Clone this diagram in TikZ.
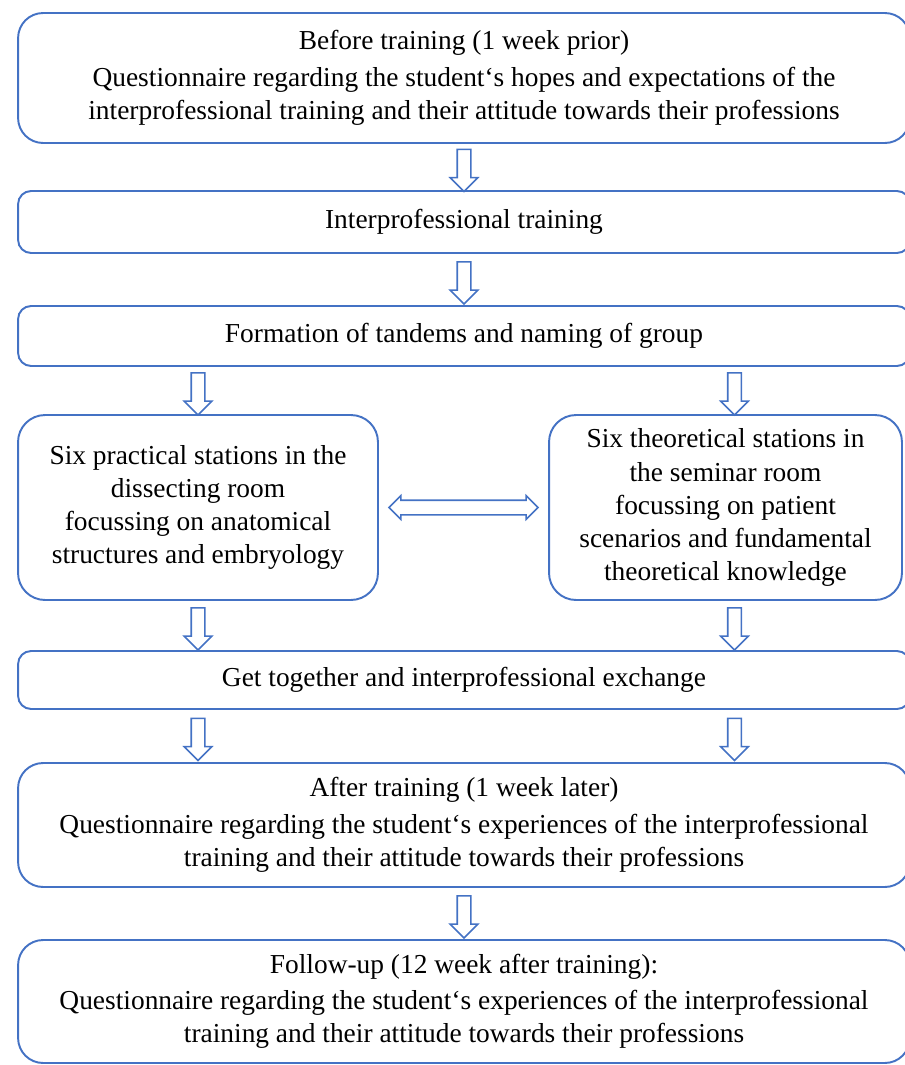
\documentclass[tikz,border=0pt]{standalone}
\usepackage{fontspec}
\setmainfont{Liberation Serif}
\usepackage{tikz}
\usetikzlibrary{shapes.arrows,calc}
\definecolor{boxline}{HTML}{4472C4}

\begin{document}
\begin{tikzpicture}[
    x=0.02cm, y=-0.02cm,
    stage/.style={
        draw=boxline,
        line width=1.1pt,
        rounded corners=0.5cm,
        align=center,
        font=\fontsize{15.6}{18.8}\selectfont,
        inner sep=0pt
    },
    slim/.style={stage, rounded corners=0.26cm},
    downarrow/.style={single arrow, draw=boxline, line width=0.9pt, fill=white,
        minimum height=0.84cm, inner xsep=0pt, inner ysep=0.12cm,
        single arrow head extend=0.14cm, single arrow head indent=0pt},
    bothways/.style={double arrow, draw=boxline, line width=0.9pt, fill=white,
        minimum height=2.98cm, inner xsep=0pt, inner ysep=0.13cm,
        double arrow head extend=0.09cm, double arrow head indent=0pt}
]
\useasboundingbox (0,0) rectangle (904,1065);

% Stages (top to bottom)
\node[stage, minimum width=17.84cm, minimum height=2.6cm] (pre) at (464,78)
    {Before training (1 week prior)\\[2pt]
     Questionnaire regarding the student‘s hopes and expectations of the\\
     interprofessional training and their attitude towards their professions};

\node[slim, minimum width=17.84cm, minimum height=1.24cm] (ipt) at (464,222)
    {Interprofessional training};

\node[slim, minimum width=17.84cm, minimum height=1.2cm] (tandem) at (464,336)
    {Formation of tandems and naming of group};

\node[stage, rounded corners=0.54cm, minimum width=7.2cm, minimum height=3.7cm] (practical) at (198,507.5)
    {Six practical stations in the\\ dissecting room\\ focussing on anatomical\\ structures and embryology};

\node[stage, rounded corners=0.54cm, minimum width=7.06cm, minimum height=3.7cm] (theory) at (725.5,507.5)
    {Six theoretical stations in\\ the seminar room\\ focussing on patient\\ scenarios and fundamental\\ theoretical knowledge};

\node[slim, minimum width=17.84cm, minimum height=1.16cm] (together) at (464,680)
    {Get together and interprofessional exchange};

\node[stage, minimum width=17.84cm, minimum height=2.48cm] (post) at (464,825)
    {After training (1 week later)\\[2pt]
     Questionnaire regarding the student‘s experiences of the interprofessional\\
     training and their attitude towards their professions};

\node[stage, minimum width=17.84cm, minimum height=2.46cm] (follow) at (464,1001.5)
    {Follow-up (12 week after training):\\[2pt]
     Questionnaire regarding the student‘s experiences of the interprofessional\\
     training and their attitude towards their professions};

% Block arrows between stages
\path (pre.south) -- (ipt.north) node[midway, sloped, downarrow] (a1) {};
\path (ipt.south) -- (tandem.north) node[midway, sloped, downarrow] (a2) {};
\path (practical.north |- tandem.south) -- (practical.north) node[midway, sloped, downarrow] (a3) {};
\path ([xshift=0.18cm]theory.north |- tandem.south) -- ([xshift=0.18cm]theory.north) node[midway, sloped, downarrow] (a4) {};
\path (practical.east) -- (theory.west) node[midway, sloped, bothways] (a5) {};
\path (practical.south) -- (practical.south |- together.north) node[midway, sloped, downarrow] (a6) {};
\path ([xshift=0.18cm]theory.south) -- ([xshift=0.18cm]theory.south |- together.north) node[midway, sloped, downarrow] (a7) {};
\path (practical.south |- together.south) -- (practical.south |- post.north) node[midway, sloped, downarrow] (a8) {};
\path ([xshift=0.18cm]theory.south |- together.south) -- ([xshift=0.18cm]theory.south |- post.north) node[midway, sloped, downarrow] (a9) {};
\path (post.south) -- (follow.north) node[midway, sloped, downarrow] (a10) {};

\end{tikzpicture}
\end{document}
